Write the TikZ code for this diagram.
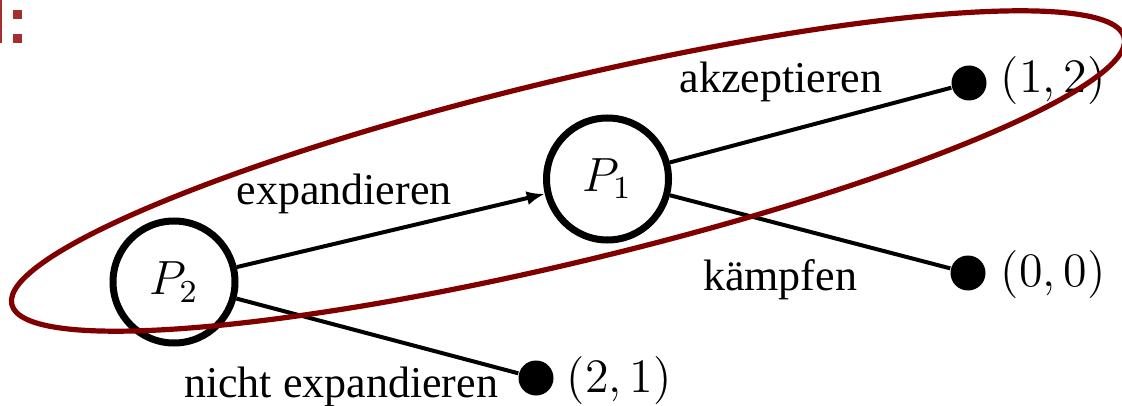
\documentclass[tikz,border=0pt]{standalone}
\usepackage[no-math]{fontspec}
\newfontfamily\labfont{Liberation Serif}
\usetikzlibrary{arrows.meta}
\definecolor{ellred}{RGB}{128,0,0}
\definecolor{titlered}{RGB}{165,45,45}
\begin{document}
\begin{tikzpicture}[x=0.25pt,y=-0.25pt,
  player/.style={circle,draw,line width=1.75pt,minimum size=30.5pt,inner sep=0pt,font=\fontsize{12}{14}\selectfont},
  leaf/.style={circle,fill=black,minimum size=8.75pt,inner sep=0pt},
  payoff/.style={anchor=base west,inner sep=0pt,font=\fontsize{12}{14}\selectfont},
  move/.style={anchor=base,inner sep=0pt,font=\labfont\fontsize{11}{13}\selectfont},
  edgeline/.style={line width=1pt},
  infoset/.style={draw=ellred,line width=1.3pt},
  titlemark/.style={fill=titlered}]
\useasboundingbox (0,0) rectangle (1122,406);
% cropped title marks
\fill[titlemark] (0,0) rectangle (2,43);
\fill[titlemark] (13,10) rectangle (22,19);
\fill[titlemark] (13,34) rectangle (22,43);
% nodes
\node[player] (p2) at (174,282) {$P_2$};
\node[player] (p1) at (607.5,179) {$P_1$};
\node[leaf] (l12) at (969,83) {};
\node[leaf] (l00) at (968,273) {};
\node[leaf] (l21) at (536,378) {};
% payoffs
\node[payoff] (t12) at (1000,93) {$(1,2)$};
\node[payoff] (t00) at (1000,286) {$(0,0)$};
\node[payoff] (t21) at (566,392) {$(2,1)$};
% edges
\draw[edgeline,-{Latex[length=4.5pt,width=3.5pt]}] (p2) -- (p1);
\draw[edgeline] (p1) -- (l12);
\draw[edgeline] (p1) -- (l00);
\draw[edgeline] (p2) -- (l21);
% move labels
\node[move] (m1) at (344,205) {expandieren};
\node[move] (m2) at (781,93) {akzeptieren};
\node[move] (m3) at (780,290) {kämpfen};
\node[move] (m4) at (341,397) {nicht expandieren};
% information set
\draw[infoset,rotate around={13.5:(568,171)}] (568,171) ellipse [x radius=572, y radius=91];
\end{tikzpicture}
\end{document}
